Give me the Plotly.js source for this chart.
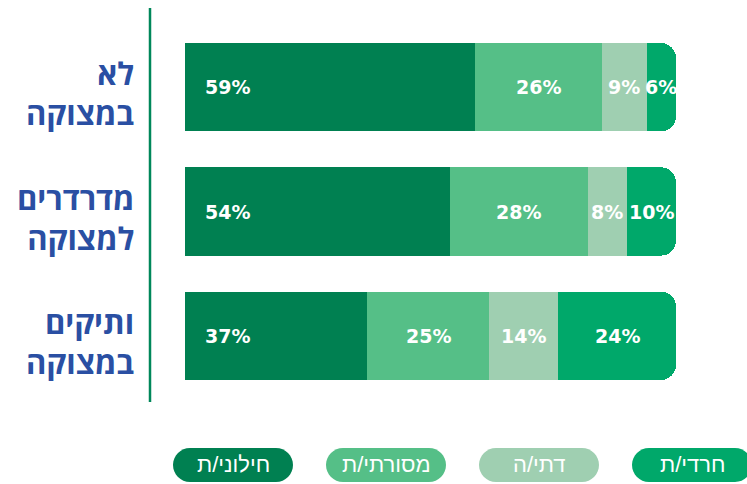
<!DOCTYPE html>
<html>
<head>
<meta charset="utf-8">
<script src="https://cdn.plot.ly/plotly-3.0.1.min.js"></script>
<style>html,body{margin:0;padding:0;background:#fff;}#chart{width:747px;height:484px;}</style>
</head>
<body>
<div id="chart"></div>
<script>
var categories = ['לא<br>במצוקה', 'מדרדרים<br>למצוקה', 'ותיקים<br>במצוקה'];
var seriesNames = ['חילוני/ת', 'מסורתי/ת', 'דתי/ה', 'חרדי/ת'];
var secular = [59, 54, 37];
var traditional = [26, 28, 25];
var religious = [9, 8, 14];
var haredi = [6, 10, 24];
var seriesColors = ['#008051', '#55bf87', '#9fcfb1', '#00a86a'];

var W = 747, H = 484;
var M = {l: 185, r: 71, t: 25, b: 86};
var PW = W - M.l - M.r, PH = H - M.t - M.b;
function px2x(px) { return (px - M.l) / PW; }
function py2y(py) { return (H - M.b - py) / PH; }

var seriesValues = [secular, traditional, religious, haredi];
var traces = seriesValues.map(function (vals, i) {
  return {
    type: 'bar',
    orientation: 'h',
    name: seriesNames[i],
    y: categories,
    x: vals,
    marker: {color: seriesColors[i], line: {width: 0}},
    hoverinfo: 'skip',
    showlegend: false
  };
});

var labelFont = {family: 'DejaVu Sans', size: 19, color: '#ffffff', weight: 'bold'};
var annotations = [];
categories.forEach(function (cat, c) {
  var start = 0;
  seriesValues.forEach(function (vals, i) {
    var v = vals[c];
    annotations.push({
      xref: 'x', yref: 'y',
      x: i === 0 ? start : start + v / 2,
      xshift: i === 0 ? 18 : 0,
      xanchor: i === 0 ? 'left' : 'center',
      y: cat, yanchor: 'middle',
      text: '<b>' + v + '%</b>', showarrow: false,
      font: labelFont
    });
    start += v;
  });
  annotations.push({
    xref: 'paper', yref: 'y',
    x: px2x(136), xanchor: 'right', align: 'right',
    y: cat, yanchor: 'middle', yshift: -6,
    text: cat.split('<br>').map(function (s) { return '<b>' + s + '</b>'; }).join('<br>'),
    showarrow: false,
    font: {family: 'Open Sans', size: 31, color: '#2a4fa3'}
  });
});

var shapes = [{
  type: 'line', xref: 'paper', yref: 'paper',
  x0: px2x(150), x1: px2x(150), y0: py2y(402), y1: py2y(8),
  line: {color: '#00875a', width: 2.5}
}];
var pillPath = 'M -43,-17 L 43,-17 C 52.39,-17 60,-9.39 60,0 C 60,9.39 52.39,17 43,17 L -43,17 C -52.39,17 -60,9.39 -60,0 C -60,-9.39 -52.39,-17 -43,-17 Z';
var pillCenters = [233, 386, 539, 692];
seriesNames.forEach(function (name, i) {
  shapes.push({
    type: 'path', xref: 'paper', yref: 'paper',
    xsizemode: 'pixel', ysizemode: 'pixel',
    xanchor: px2x(pillCenters[i]), yanchor: py2y(465),
    path: pillPath,
    fillcolor: seriesColors[i], line: {width: 0}
  });
  annotations.push({
    xref: 'paper', yref: 'paper',
    x: px2x(pillCenters[i]), y: py2y(465),
    text: name, showarrow: false,
    xanchor: 'center', yanchor: 'middle',
    font: {family: 'Liberation Sans', size: 22, color: '#ffffff'}
  });
});

var layout = {
  width: W, height: H,
  margin: M,
  paper_bgcolor: '#ffffff', plot_bgcolor: '#ffffff',
  barmode: 'stack',
  bargap: 0.29,
  barcornerradius: 15,
  showlegend: false,
  xaxis: {range: [0, 100], visible: false, fixedrange: true},
  yaxis: {
    type: 'category', autorange: 'reversed',
    showticklabels: false,
    showgrid: false, zeroline: false, showline: false, ticks: ''
  },
  shapes: shapes,
  annotations: annotations
};

Plotly.newPlot('chart', traces, layout, {displayModeBar: false, staticPlot: true});
</script>
</body>
</html>
